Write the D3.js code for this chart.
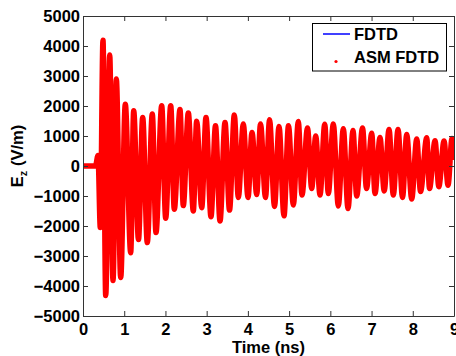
<!DOCTYPE html>
<html>
<head>
<meta charset="utf-8">
<script src="https://cdn.jsdelivr.net/npm/d3@7"></script>
<style>
  body { margin: 0; background: #fff; }
  svg { display: block; font-family: "Liberation Sans", Arial, sans-serif; font-weight: bold; }
</style>
</head>
<body>
<div id="chart"></div>
<script>
// time (ns) of each turning point of the field
const times = [0, 0.303, 0.364, 0.420, 0.485, 0.551, 0.648, 0.728, 0.808, 0.915,
  1.026, 1.157, 1.230, 1.346, 1.448, 1.560, 1.681, 1.771, 1.909, 2.006,
  2.128, 2.215, 2.353, 2.433, 2.555, 2.676, 2.758, 2.880, 2.984, 3.105,
  3.214, 3.324, 3.445, 3.554, 3.671, 3.768, 3.889, 4.003, 4.100, 4.214,
  4.306, 4.427, 4.525, 4.646, 4.755, 4.876, 4.985, 5.102, 5.223, 5.313,
  5.446, 5.548, 5.645, 5.750, 5.864, 5.951, 6.072, 6.194, 6.315, 6.429,
  6.550, 6.640, 6.781, 6.878, 7.004, 7.084, 7.205, 7.307, 7.424, 7.528,
  7.642, 7.751, 7.853, 7.974, 8.096, 8.188, 8.338, 8.406, 8.540, 8.632,
  8.758, 8.855, 8.952, 9.0];
// Ez (V/m) at those times
const ezAsm = [0, 0, 350, -2050, 4190, -4320, 3700, -3820, 2900, -3720,
  2060, -2890, 1840, -2450, 1620, -2550, 1730, -2220, 2010, -1740,
  2010, -1440, 1880, -1320, 1770, -1500, 1490, -1390, 1620, -1690,
  1340, -1830, 1450, -1470, 1700, -1050, 1400, -1050, 1120, -950,
  1400, -1050, 1540, -1350, 1320, -1660, 1340, -1300, 1480, -970,
  1270, -750, 1000, -970, 1390, -920, 1400, -1330, 1240, -1420,
  1180, -1000, 1270, -750, 1090, -920, 950, -830, 1220, -970,
  1220, -1050, 1050, -1100, 900, -850, 940, -750, 840, -690,
  830, -640, 920, 200];
// the reference FDTD run follows the same trace
const ezFdtd = ezAsm.slice();

const xTicks = [0, 1, 2, 3, 4, 5, 6, 7, 8, 9];
const yTicks = [-5000, -4000, -3000, -2000, -1000, 0, 1000, 2000, 3000, 4000, 5000];
const seriesNames = ["FDTD", "ASM FDTD"];

const W = 456, H = 356;
const m = { left: 83, right: 2, top: 16, bottom: 40 };

const svg = d3.select("#chart").append("svg")
  .attr("width", W).attr("height", H);

const x = d3.scaleLinear().domain([0, 9]).range([m.left, W - m.right]);
const y = d3.scaleLinear().domain([-5000, 5000]).range([H - m.bottom, m.top]);

svg.append("clipPath").attr("id", "plot")
  .append("rect")
  .attr("x", x(0)).attr("y", y(5000))
  .attr("width", x(9) - x(0)).attr("height", y(-5000) - y(5000));

const line = d3.line()
  .x(d => x(d[0]))
  .y(d => y(d[1]));

const g = svg.append("g").attr("clip-path", "url(#plot)");

g.append("path")
  .datum(times.map((t, i) => [t, ezFdtd[i]]))
  .attr("fill", "none")
  .attr("stroke", "#0000ff")
  .attr("stroke-width", 1)
  .attr("d", line.curve(d3.curveLinear));

g.append("path")
  .datum(times.map((t, i) => [t, ezAsm[i]]))
  .attr("fill", "none")
  .attr("stroke", "#ff0000")
  .attr("stroke-width", 5.5)
  .attr("stroke-linejoin", "round")
  .attr("d", line.curve(d3.curveMonotoneX));

// axes, matlab style box with inward ticks
const axisCol = "#333";
const fs = 16.5;
const fmt = d3.format("d");

const axB = svg.append("g")
  .attr("transform", `translate(0,${y(-5000)})`)
  .call(d3.axisBottom(x).tickValues(xTicks).tickFormat(fmt).tickSizeInner(-5).tickSizeOuter(0).tickPadding(7));
const axT = svg.append("g")
  .attr("transform", `translate(0,${y(5000)})`)
  .call(d3.axisTop(x).tickValues(xTicks).tickSizeInner(-5).tickSizeOuter(0).tickFormat(""));
const axL = svg.append("g")
  .attr("transform", `translate(${x(0)},0)`)
  .call(d3.axisLeft(y).tickValues(yTicks).tickFormat(fmt).tickSizeInner(-5).tickSizeOuter(0).tickPadding(3));
const axR = svg.append("g")
  .attr("transform", `translate(${x(9)},0)`)
  .call(d3.axisRight(y).tickValues(yTicks).tickSizeInner(-5).tickSizeOuter(0).tickFormat(""));

[axB, axT, axL, axR].forEach(a => {
  a.selectAll("path,line").attr("stroke", axisCol).attr("stroke-width", 1);
  a.selectAll("text").attr("fill", "#000").attr("font-size", fs)
    .attr("font-family", "Liberation Sans, Arial, sans-serif").attr("font-weight", "bold");
});
axL.selectAll("text").attr("dy", "0.35em");

svg.append("text")
  .attr("x", (x(0) + x(9)) / 2).attr("y", 353)
  .attr("text-anchor", "middle").attr("font-size", fs)
  .text("Time (ns)");

const yl = svg.append("text")
  .attr("transform", `translate(23,${(y(5000) + y(-5000)) / 2 - 10}) rotate(-90)`)
  .attr("text-anchor", "middle").attr("font-size", fs);
yl.append("tspan").text("E");
yl.append("tspan").attr("font-size", 11).attr("dy", 4).text("z");
yl.append("tspan").attr("dy", -4).text(" (V/m)");

// legend
const lg = svg.append("g");
lg.append("rect")
  .attr("x", 312.5).attr("y", 23.5).attr("width", 134).attr("height", 47.5)
  .attr("fill", "#fff").attr("stroke", "#000").attr("stroke-width", 1);
lg.append("line")
  .attr("x1", 323).attr("x2", 350).attr("y1", 34).attr("y2", 34)
  .attr("stroke", "#0000ff").attr("stroke-width", 1.5);
lg.append("circle")
  .attr("cx", 336).attr("cy", 61.5).attr("r", 1.6).attr("fill", "#ff0000");
lg.selectAll("text.lab").data(seriesNames).join("text")
  .attr("class", "lab")
  .attr("x", 354).attr("y", (d, i) => 40 + i * 23)
  .attr("font-size", fs)
  .text(d => d);
</script>
</body>
</html>
